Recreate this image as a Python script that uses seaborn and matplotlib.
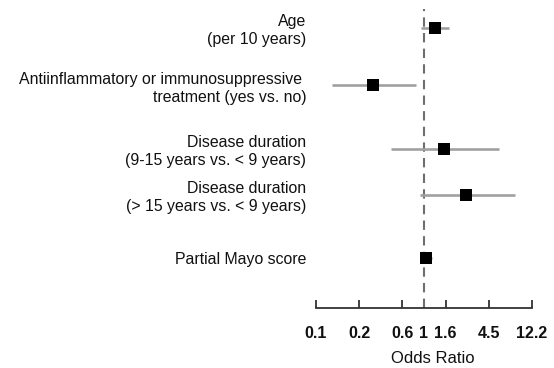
import numpy as np
import pandas as pd
import matplotlib
matplotlib.use("Agg")
import matplotlib.pyplot as plt
import seaborn as sns

sns.set_style("white")
plt.rcParams['font.family'] = ['Liberation Sans', 'DejaVu Sans']

labels = ["Age\n(per 10 years)",
          "Antiinflammatory or immunosuppressive \ntreatment (yes vs. no)",
          "Disease duration\n(9-15 years vs. < 9 years)",
          "Disease duration\n(> 15 years vs. < 9 years)",
          "Partial Mayo score"]
row_pos = [0, 1.0, 2.1, 2.9, 4.0]
odds_ratio = [1.29, 0.31, 1.59, 2.66, 1.04]
ci_low = [0.93, 0.118, 0.47, 0.914, 0.93]
ci_high = [1.79, 0.84, 5.67, 8.17, 1.19]
tick_log = [-2.5, -1.5, -0.5, 0, 0.5, 1.5, 2.5]
tick_labels = ["0.1", "0.2", "0.6", "1", "1.6", "4.5", "12.2"]

df = pd.DataFrame({"label": labels, "y": row_pos,
                   "lor": np.log(odds_ratio),
                   "lo": np.log(ci_low), "hi": np.log(ci_high)})

W, H = 554, 368
fig = plt.figure(figsize=(W / 100, H / 100), dpi=100)
left, right, top, bottom = 312, 554, 9, 308
ax = fig.add_axes([left / W, 1 - bottom / H, (right - left) / W, (bottom - top) / H])

ax.hlines(df["y"], df["lo"], df["hi"], color="#a0a0a0", lw=1.9, zorder=2)
ax.axvline(0, color="#6e6e6e", lw=1.5, dashes=(4.5, 3), zorder=1)
sns.scatterplot(data=df, x="lor", y="y", marker="s", s=85, color="black",
                edgecolor="black", linewidth=0, ax=ax, zorder=3, legend=False)

ax.set_xlim(-2.593, 3.01)
ax.set_ylim(4.868, -0.325)
for s in ["top", "right", "left"]:
    ax.spines[s].set_visible(False)
ax.spines["bottom"].set_bounds(-2.5, 2.5)
ax.spines["bottom"].set_color("#333333")
ax.spines["bottom"].set_linewidth(1.3)

ax.set_xticks(tick_log)
ax.set_xticklabels(tick_labels, fontsize=11.5, fontweight="bold", color="#111111")
ax.tick_params(axis="x", direction="in", length=6, width=1.3, color="#333333", pad=13, bottom=True)
ax.set_yticks(row_pos)
ax.set_yticklabels(labels, fontsize=11.4, ha="right", color="#111111", linespacing=1.24)
ax.tick_params(axis="y", length=0, pad=4)
ax.set_xlabel("Odds Ratio", fontsize=12, color="#111111", labelpad=7)
ax.set_ylabel("")

fig.savefig("out.png", dpi=100)
